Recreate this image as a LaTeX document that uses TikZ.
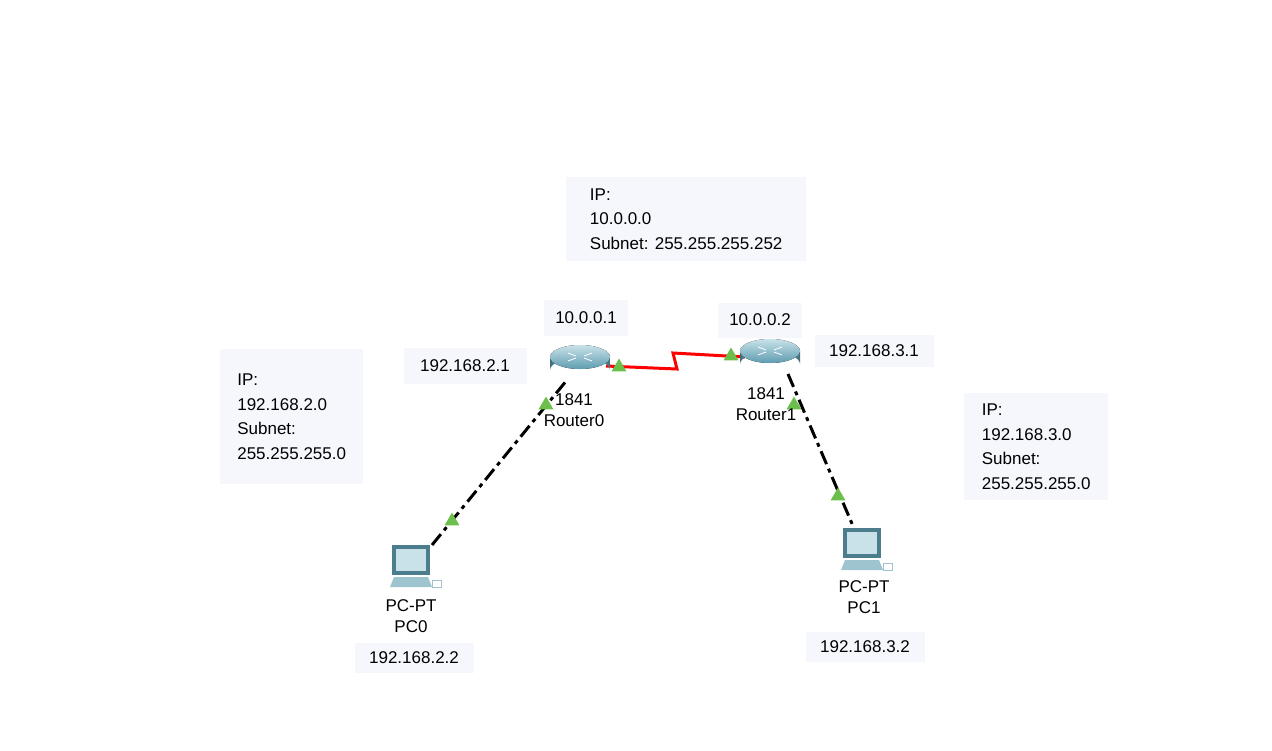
\documentclass[tikz,border=0pt]{standalone}
\usepackage{fontspec}
\setmainfont{Liberation Sans}
\usetikzlibrary{shapes.geometric}
\begin{document}
\begin{tikzpicture}[x=1pt,y=-1pt,
  lbl/.style={fill=boxbg,inner sep=0pt,font=\fontsize{17}{24.5}\selectfont},
  info/.style={fill=boxbg,align=left,inner xsep=6pt,inner ysep=0pt,anchor=north west,font=\fontsize{17}{24.5}\selectfont},
  devcap/.style={font=\fontsize{17}{21}\selectfont,align=center,inner sep=0pt},
  eth/.style={line width=3pt,dash pattern=on 14pt off 5pt on 4pt off 5pt},
  tri/.style={fill=trig,draw=none,regular polygon,regular polygon sides=3,minimum size=17pt,inner sep=0pt}]
\definecolor{boxbg}{HTML}{F5F7FC}
\definecolor{trig}{HTML}{6CBF4A}
\definecolor{rt}{HTML}{5E9CB0}
\definecolor{rtl}{HTML}{C9E2EA}
\useasboundingbox (0,0) rectangle (1272,750);
% boxes
\node[info,minimum width=240,minimum height=84] (top) at (566,177) {IP:\\10.0.0.0\\Subnet: 255.255.255.252};
\node[info,minimum width=143,minimum height=135] (linfo) at (220,349) {IP:\\192.168.2.0\\Subnet:\\255.255.255.0};
\node[info,minimum width=144,minimum height=107] (rinfo) at (964,393) {IP:\\192.168.3.0\\Subnet:\\255.255.255.0};
\node[lbl,minimum width=84,minimum height=36] (a1) at (586,318) {10.0.0.1};
\node[lbl,minimum width=84,minimum height=35] (a2) at (760,320) {10.0.0.2};
\node[lbl,minimum width=123,minimum height=36] (a3) at (465,366) {192.168.2.1};
\node[lbl,minimum width=119,minimum height=32] (a4) at (874,351) {192.168.3.1};
\node[lbl,minimum width=119,minimum height=30] (a5) at (414,658) {192.168.2.2};
\node[lbl,minimum width=119,minimum height=30] (a6) at (865,647) {192.168.3.2};
% device anchors
\coordinate (r0) at (580,362);
\coordinate (r1) at (770,356);
\coordinate (p0) at (411,565);
\coordinate (p1) at (862,548);
\coordinate (r0b) at (567,380);
\coordinate (r1b) at (788,374);
\coordinate (p0t) at (432,545);
\coordinate (p1t) at (853,526);
\coordinate (r0r) at (606,366);
\coordinate (r1l) at (745,357);
% links
\draw[eth] (p0t) -- (r0b);
\draw[eth] (r1b) -- (p1t);
\draw[red,line width=3pt] (r0r) -- (677,369) -- (673,353) -- (r1l);
% routers
\foreach \c in {r0,r1}{
  \begin{scope}[shift={(\c)}]
   \path[left color=rt!70!black,right color=rt!70!black,middle color=rtl] (-30,-5) -- (-30,8) arc[start angle=180,end angle=360,x radius=30,y radius=12] -- (30,-5) -- cycle;
   \fill[top color=rtl,bottom color=rt] (0,-5) ellipse[x radius=30,y radius=12];
   \draw[white,line width=0.8pt] (-12,-9)--(-4,-6) (12,-1)--(4,-4) (-12,-1)--(-4,-4) (12,-9)--(4,-6);
  \end{scope}}
% PCs
\foreach \c in {p0,p1}{
  \begin{scope}[shift={(\c)}]
   \fill[rt!80!black] (-19,-20) rectangle (19,10);
   \fill[rtl] (-15,-16) rectangle (15,6);
   \fill[rt!60] (-17,12) -- (17,12) -- (21,22) -- (-21,22) -- cycle;
   \draw[rt!60,line width=1pt] (21,15) rectangle (30,22);
  \end{scope}}
% triangles
\node[tri] at (452,521) {};
\node[tri] at (546,405) {};
\node[tri] at (619,367) {};
\node[tri] at (731,356) {};
\node[tri] at (794,405) {};
\node[tri] at (838,496) {};
% captions
\node[devcap] (c0) at (574,410) {1841\\Router0};
\node[devcap] (c1) at (766,404) {1841\\Router1};
\node[devcap] (c2) at (411,616) {PC-PT\\PC0};
\node[devcap] (c3) at (864,597) {PC-PT\\PC1};
\end{tikzpicture}
\end{document}
